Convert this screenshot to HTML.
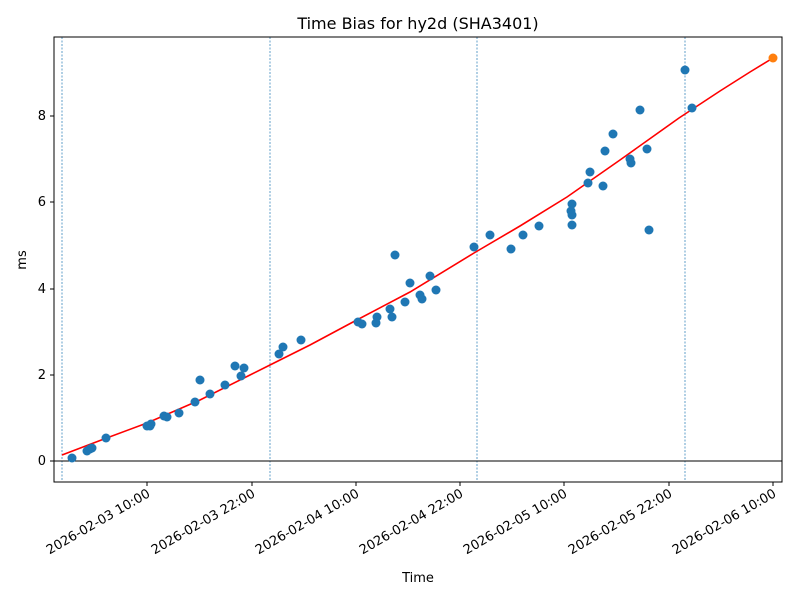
<!DOCTYPE html>
<html><head><style>body{margin:0;background:#fff}svg{display:block}text{font-family:"DejaVu Sans","Liberation Sans",sans-serif;fill:#000}</style></head>
<body><svg width="800" height="600" viewBox="0 0 800 600">
<rect width="800" height="600" fill="#fff"/>
<text x="418" y="29" font-size="16" text-anchor="middle">Time Bias for hy2d (SHA3401)</text>
<g stroke="#1f77b4" stroke-width="0.7" stroke-dasharray="2,1.5">
<line x1="62" y1="37" x2="62" y2="482"/><line x1="270" y1="37" x2="270" y2="482"/><line x1="477" y1="37" x2="477" y2="482"/><line x1="685" y1="37" x2="685" y2="482"/>
</g>
<line x1="54" y1="461" x2="782" y2="461" stroke="#000" stroke-width="1"/>
<polyline fill="none" stroke="red" stroke-width="1.6" points="62,455 104,439 147,423 200,400 250,375 270,365 310,345 353,322 410,292 474,253 520,226 567,197 620,160 679,118 720,91 750,72 773,58"/>
<g fill="#1f77b4">
<circle cx="72" cy="458" r="4.5"/><circle cx="87" cy="451" r="4.5"/><circle cx="90" cy="449" r="4.5"/><circle cx="92" cy="448" r="4.5"/><circle cx="106" cy="438" r="4.5"/>
<circle cx="147" cy="426" r="4.5"/><circle cx="150" cy="426" r="4.5"/><circle cx="151" cy="424" r="4.5"/><circle cx="164" cy="416" r="4.5"/><circle cx="167" cy="417" r="4.5"/><circle cx="179" cy="413" r="4.5"/><circle cx="195" cy="402" r="4.5"/><circle cx="200" cy="380" r="4.5"/><circle cx="210" cy="394" r="4.5"/><circle cx="225" cy="385" r="4.5"/><circle cx="235" cy="366" r="4.5"/><circle cx="241" cy="376" r="4.5"/><circle cx="244" cy="368" r="4.5"/>
<circle cx="279" cy="354" r="4.5"/><circle cx="283" cy="347" r="4.5"/><circle cx="301" cy="340" r="4.5"/>
<circle cx="358" cy="322" r="4.5"/><circle cx="362" cy="324" r="4.5"/><circle cx="376" cy="323" r="4.5"/><circle cx="377" cy="317" r="4.5"/><circle cx="390" cy="309" r="4.5"/><circle cx="392" cy="317" r="4.5"/><circle cx="395" cy="255" r="4.5"/><circle cx="405" cy="302" r="4.5"/><circle cx="410" cy="283" r="4.5"/><circle cx="420" cy="295" r="4.5"/><circle cx="422" cy="299" r="4.5"/><circle cx="430" cy="276" r="4.5"/><circle cx="436" cy="290" r="4.5"/>
<circle cx="474" cy="247" r="4.5"/><circle cx="490" cy="235" r="4.5"/><circle cx="511" cy="249" r="4.5"/><circle cx="523" cy="235" r="4.5"/><circle cx="539" cy="226" r="4.5"/>
<circle cx="572" cy="204" r="4.5"/><circle cx="571" cy="211" r="4.5"/><circle cx="572" cy="215" r="4.5"/><circle cx="572" cy="225" r="4.5"/><circle cx="588" cy="183" r="4.5"/><circle cx="590" cy="172" r="4.5"/><circle cx="603" cy="186" r="4.5"/><circle cx="605" cy="151" r="4.5"/><circle cx="613" cy="134" r="4.5"/><circle cx="630" cy="159" r="4.5"/><circle cx="631" cy="163" r="4.5"/><circle cx="640" cy="110" r="4.5"/><circle cx="647" cy="149" r="4.5"/><circle cx="649" cy="230" r="4.5"/><circle cx="685" cy="70" r="4.5"/><circle cx="692" cy="108" r="4.5"/>
</g>
<circle cx="773" cy="58" r="4.5" fill="#ff7f0e"/>
<rect x="54" y="37" width="728" height="445" fill="none" stroke="#000" stroke-width="1"/>
<g stroke="#000" stroke-width="1">
<line x1="54" y1="461" x2="50" y2="461"/><line x1="54" y1="375" x2="50" y2="375"/><line x1="54" y1="289" x2="50" y2="289"/><line x1="54" y1="202" x2="50" y2="202"/><line x1="54" y1="116" x2="50" y2="116"/>
<line x1="147" y1="482" x2="147" y2="486"/><line x1="252" y1="482" x2="252" y2="486"/><line x1="356" y1="482" x2="356" y2="486"/><line x1="460" y1="482" x2="460" y2="486"/><line x1="564" y1="482" x2="564" y2="486"/><line x1="669" y1="482" x2="669" y2="486"/><line x1="773" y1="482" x2="773" y2="486"/>
</g>
<g font-size="13" text-anchor="end">
<text x="46" y="465">0</text><text x="46" y="379">2</text><text x="46" y="293">4</text><text x="46" y="206">6</text><text x="46" y="120">8</text>
</g>
<g font-size="13" text-anchor="end">
<text transform="translate(151,496) rotate(-30)">2026-02-03 10:00</text>
<text transform="translate(256,496) rotate(-30)">2026-02-03 22:00</text>
<text transform="translate(360,496) rotate(-30)">2026-02-04 10:00</text>
<text transform="translate(464,496) rotate(-30)">2026-02-04 22:00</text>
<text transform="translate(568,496) rotate(-30)">2026-02-05 10:00</text>
<text transform="translate(673,496) rotate(-30)">2026-02-05 22:00</text>
<text transform="translate(777,496) rotate(-30)">2026-02-06 10:00</text>
</g>
<text x="418" y="582" font-size="13" text-anchor="middle">Time</text>
<text transform="translate(26,260) rotate(-90)" font-size="13" text-anchor="middle">ms</text>
</svg></body></html>
